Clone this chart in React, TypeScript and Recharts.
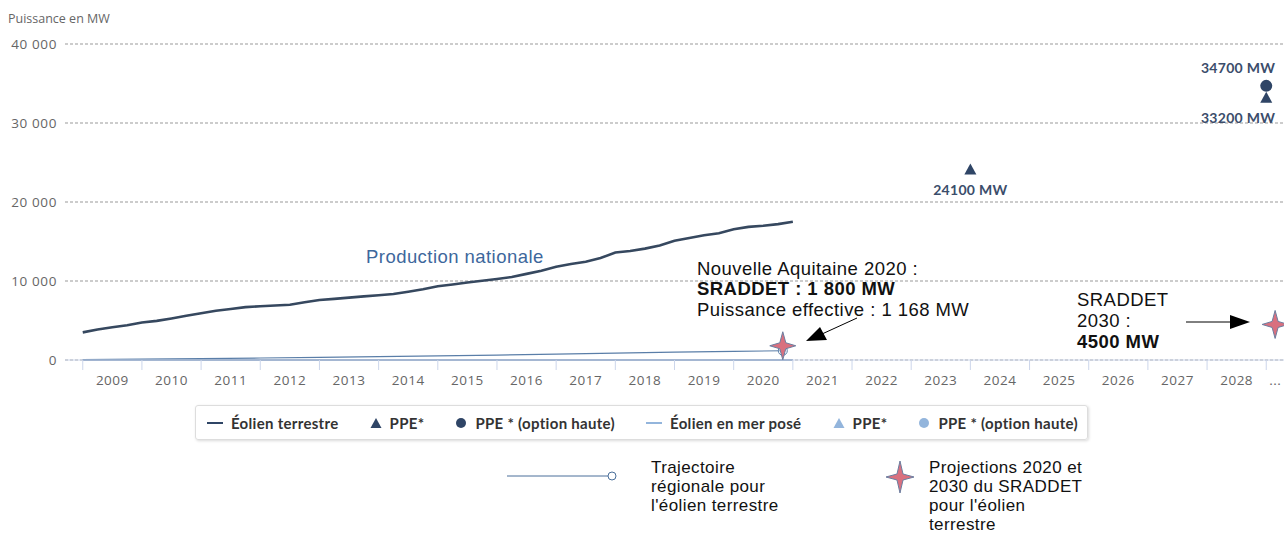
import React from "react";
import { ComposedChart, Line, Scatter, XAxis, YAxis, CartesianGrid } from "recharts";

// national onshore wind capacity, quarterly (MW)
const nationalPeriods = [
  2009, 2009.25, 2009.5, 2009.75, 2010, 2010.25, 2010.5, 2010.75,
  2011, 2011.25, 2011.5, 2011.75, 2012, 2012.25, 2012.5, 2012.75,
  2013, 2013.25, 2013.5, 2013.75, 2014, 2014.25, 2014.5, 2014.75,
  2015, 2015.25, 2015.5, 2015.75, 2016, 2016.25, 2016.5, 2016.75,
  2017, 2017.25, 2017.5, 2017.75, 2018, 2018.25, 2018.5, 2018.75,
  2019, 2019.25, 2019.5, 2019.75, 2020, 2020.25, 2020.5, 2020.75, 2021,
];
const nationalMW = [
  3500, 3850, 4150, 4400, 4750, 4950, 5260, 5600,
  5920, 6230, 6450, 6690, 6800, 6900, 7000, 7300,
  7600, 7740, 7890, 8050, 8200, 8350, 8650, 8950,
  9330, 9550, 9800, 10030, 10260, 10500, 10900, 11300,
  11800, 12150, 12440, 12900, 13600, 13800, 14100, 14500,
  15100, 15450, 15800, 16050, 16550, 16850, 17000, 17200, 17500,
];

// offshore (posé) - nothing installed
const offshorePeriods = [2009, 2021];
const offshoreMW = [0, 0];

// regional trajectory (Nouvelle Aquitaine)
const regionalPeriods = [2009, 2010, 2011, 2012, 2013, 2014, 2015, 2016, 2017, 2018, 2019, 2020, 2020.83];
const regionalMW = [40, 100, 170, 250, 330, 420, 520, 620, 740, 870, 1000, 1100, 1168];

// PPE targets
const ppeYears = [2024, 2029];
const ppeMW = [24100, 33200];
const ppeHighYears = [2029];
const ppeHighMW = [34700];

// SRADDET projections
const sraddetYears = [2020.83, 2029.15];
const sraddetMW = [1800, 4500];

const yearTicks = [2009, 2010, 2011, 2012, 2013, 2014, 2015, 2016, 2017, 2018, 2019, 2020, 2021, 2022, 2023, 2024, 2025, 2026, 2027, 2028, 2029];
const yTicks = [0, 10000, 20000, 30000, 40000];

const nationalData = nationalPeriods.map((x, i) => ({ x, mw: nationalMW[i] }));
const offshoreData = offshorePeriods.map((x, i) => ({ x, mw: offshoreMW[i] }));
const regionalData = regionalPeriods.map((x, i) => ({ x, mw: regionalMW[i] }));
const ppeData = ppeYears.map((x, i) => ({ x, mw: ppeMW[i] }));
const ppeHighData = ppeHighYears.map((x, i) => ({ x, mw: ppeHighMW[i] }));
const sraddetData = sraddetYears.map((x, i) => ({ x, mw: sraddetMW[i] }));

const NAVY = "#2f4566";
const LIGHT = "#93b5dc";
const LABEL_FONT = "Lato, 'Open Sans', sans-serif";
const AXIS_FONT = "'Open Sans', sans-serif";
const NOTE_FONT = "'Liberation Sans', Arial, sans-serif";
const BAND = 1219 / 20.6;

const fmt = (v: number) => String(v).replace(/\B(?=(\d{3})+(?!\d))/g, " ");

const XTick = (props: any) => {
  const { x, y, payload } = props;
  const v = payload.value;
  const last = v === 2029;
  return (
    <text x={x + (last ? 9 : BAND / 2)} y={y} dy={13} textAnchor="middle" fill="#666" fontSize={13.5} letterSpacing={0.5} fontFamily={AXIS_FONT}>
      {last ? "..." : v}
    </text>
  );
};

const MwLabel = ({ x, y, anchor, mw }: { x: number; y: number; anchor: "end" | "middle"; mw: number }) => (
  <text x={x} y={y} textAnchor={anchor} fill="#3b4d6b" fontSize={14} fontWeight="bold" letterSpacing={0.3} fontFamily={LABEL_FONT}>
    {mw} MW
  </text>
);

const Triangle = (props: any) => {
  const { cx, cy, payload } = props;
  const nearEdge = cx > 1200;
  return (
    <g>
      <path d={`M${cx},${cy - 6} L${cx + 6},${cy + 5} L${cx - 6},${cy + 5} Z`} fill={NAVY} />
      <MwLabel x={nearEdge ? cx + 9 : cx} y={cy + 25} anchor={nearEdge ? "end" : "middle"} mw={payload.mw} />
    </g>
  );
};

const Circle = (props: any) => {
  const { cx, cy, payload } = props;
  return (
    <g>
      <circle cx={cx} cy={cy} r={6} fill={NAVY} />
      <MwLabel x={cx + 9} y={cy - 13} anchor="end" mw={payload.mw} />
    </g>
  );
};

const starPath = (cx: number, cy: number, rx: number, ry: number, r: number) =>
  `M${cx},${cy - ry} L${cx + r},${cy - r} L${cx + rx},${cy} L${cx + r},${cy + r} L${cx},${cy + ry} L${cx - r},${cy + r} L${cx - rx},${cy} L${cx - r},${cy - r} Z`;

const Star = (props: any) => {
  const { cx, cy } = props;
  return <path d={starPath(cx, cy, 13, 14, 3)} fill="#d9707f" stroke="#6b7ea0" strokeWidth={1} />;
};

const RegionalDot = (props: any) => {
  const { cx, cy, index } = props;
  if (index !== regionalData.length - 1) return <g key={index} />;
  return <circle key={index} cx={cx} cy={cy} r={4.5} fill="#fff" fillOpacity={0.4} stroke="#5a7ea8" strokeWidth={1} />;
};

const legendItems = [
  { kind: "line", color: NAVY, label: "Éolien terrestre" },
  { kind: "tri", color: NAVY, label: "PPE*" },
  { kind: "dot", color: NAVY, label: "PPE * (option haute)" },
  { kind: "line", color: LIGHT, label: "Éolien en mer posé" },
  { kind: "tri", color: LIGHT, label: "PPE*" },
  { kind: "dot", color: LIGHT, label: "PPE * (option haute)" },
];

const Symbol = ({ kind, color }: { kind: string; color: string }) => {
  if (kind === "line") return <svg width={16} height={12}><line x1={0} y1={6} x2={16} y2={6} stroke={color} strokeWidth={2} /></svg>;
  if (kind === "tri") return <svg width={12} height={12}><path d="M6,1 L11.5,11 L0.5,11 Z" fill={color} /></svg>;
  return <svg width={12} height={12}><circle cx={6} cy={6} r={5} fill={color} /></svg>;
};

const App: React.FC = () => {
  return (
    <div style={{ position: "absolute", left: 0, top: 0, width: 1285, height: 534, background: "#fff", overflow: "hidden" }}>
      <div style={{ position: "absolute", left: 8, top: 10, fontFamily: AXIS_FONT, fontSize: 12.5, color: "#666" }}>Puissance en MW</div>

      <ComposedChart width={1285} height={534} margin={{ top: 44, right: 1, left: 0, bottom: 144 }}>
        <CartesianGrid vertical={false} stroke="#999" strokeDasharray="3 2" />
        <XAxis
          type="number"
          dataKey="x"
          domain={[2008.7, 2029.3]}
          ticks={yearTicks}
          allowDataOverflow
          height={30}
          tickSize={10}
          tickMargin={2}
          stroke="#ccd6eb"
          tick={<XTick />}
          interval={0}
        />
        <YAxis
          type="number"
          domain={[0, 40000]}
          ticks={yTicks}
          width={65}
          axisLine={false}
          tickLine={false}
          tickSize={0}
          tickMargin={8}
          tickFormatter={fmt}
          tick={{ fill: "#666", fontSize: 13.5, fontFamily: AXIS_FONT, letterSpacing: 0.6 }}
        />
        <Line data={offshoreData} dataKey="mw" type="linear" stroke="#7f98b9" strokeWidth={2} dot={false} isAnimationActive={false} />
        <Line data={nationalData} dataKey="mw" type="linear" stroke="#36485f" strokeWidth={2.6} dot={false} isAnimationActive={false} />
        <Line data={regionalData} dataKey="mw" type="linear" stroke="#5a7ea8" strokeWidth={1.2} dot={<RegionalDot />} isAnimationActive={false} />
        <Scatter data={ppeData} dataKey="mw" shape={<Triangle />} isAnimationActive={false} />
        <Scatter data={ppeHighData} dataKey="mw" shape={<Circle />} isAnimationActive={false} />
        <Scatter data={sraddetData} dataKey="mw" shape={<Star />} isAnimationActive={false} />
      </ComposedChart>

      <svg width={1285} height={534} style={{ position: "absolute", left: 0, top: 0, pointerEvents: "none" }}>
        <g fontFamily={NOTE_FONT} fontSize={18.5} letterSpacing={0.45}>
          <text x={366} y={263} fill="#3d679c">Production nationale</text>
          <text x={697} y={275} fill="#111">Nouvelle Aquitaine 2020 :</text>
          <text x={697} y={295} fill="#111" fontWeight="bold">SRADDET : 1 800 MW</text>
          <text x={697} y={316} fill="#111">Puissance effective : 1 168 MW</text>
          <text x={1077} y={306} fill="#111">SRADDET</text>
          <text x={1077} y={327} fill="#111">2030 :</text>
          <text x={1077} y={348} fill="#111" fontWeight="bold">4500 MW</text>
        </g>
        <line x1={857} y1={318} x2={822} y2={334} stroke="#000" strokeWidth={1} />
        <path d="M806,341 L820,327 L827,340 Z" fill="#000" />
        <line x1={1186} y1={322} x2={1232} y2={322} stroke="#000" strokeWidth={1} />
        <path d="M1250,322 L1230,315 L1230,329 Z" fill="#000" />

        {/* bottom explanation */}
        <line x1={507} y1={476} x2={608} y2={476} stroke="#4a6f9a" strokeWidth={1} />
        <circle cx={612} cy={476} r={4} fill="#fff" stroke="#4a6f9a" strokeWidth={1} />
        <g fontFamily={NOTE_FONT} fontSize={17} letterSpacing={0.4} fill="#111">
          <text x={651} y={473}>Trajectoire</text>
          <text x={651} y={492}>régionale pour</text>
          <text x={651} y={511}>l'éolien terrestre</text>
          <text x={929} y={473}>Projections 2020 et</text>
          <text x={929} y={492}>2030 du SRADDET</text>
          <text x={929} y={511}>pour l'éolien</text>
          <text x={929} y={530}>terrestre</text>
        </g>
        <path d={starPath(900, 477, 14, 16, 3)} fill="#d9707f" stroke="#6b7ea0" strokeWidth={1} />
      </svg>

      <div
        style={{
          position: "absolute",
          left: 195,
          top: 405,
          width: 893,
          height: 35,
          border: "1px solid #ddd",
          borderRadius: 3,
          boxShadow: "1px 1px 3px rgba(0,0,0,0.15)",
          boxSizing: "border-box",
          display: "flex",
          alignItems: "center",
          justifyContent: "space-between",
          padding: "0 9px 0 11px",
        }}
      >
        {legendItems.map((it, i) => (
          <div key={i} style={{ display: "flex", alignItems: "center", gap: 8, whiteSpace: "nowrap" }}>
            <Symbol kind={it.kind} color={it.color} />
            <span style={{ fontFamily: LABEL_FONT, fontWeight: "bold", fontSize: 15, letterSpacing: 0.3, color: "#333" }}>{it.label}</span>
          </div>
        ))}
      </div>
    </div>
  );
};

export default App;
